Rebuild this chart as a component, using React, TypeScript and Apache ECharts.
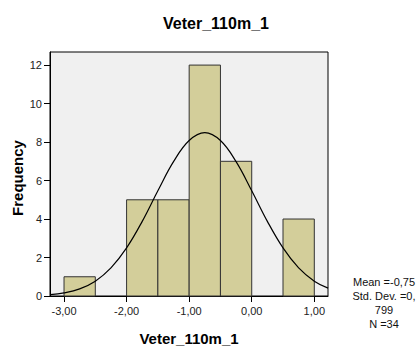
import React, { useEffect, useRef } from "react";
import * as echarts from "echarts";

const binStarts = [-3.0, -2.0, -1.5, -1.0, -0.5, 0.5];
const binEnds = [-2.5, -1.5, -1.0, -0.5, 0.0, 1.0];
const counts = [1, 5, 5, 12, 7, 4];

const curveX = [-3.22, -3.0, -2.75, -2.5, -2.25, -2.0, -1.75, -1.5, -1.25, -1.0, -0.75, -0.5, -0.25, 0.0, 0.25, 0.5, 0.75, 1.0, 1.22];
const curveY = [0.07, 0.16, 0.37, 0.77, 1.46, 2.5, 3.88, 5.47, 6.98, 8.08, 8.49, 8.08, 6.98, 5.47, 3.88, 2.5, 1.46, 0.77, 0.41];

const xTicks = [-3, -2, -1, 0, 1];
const yTicks = [0, 2, 4, 6, 8, 10, 12];

const statsLines = ["Mean =-0,75", "Std. Dev. =0,", "799", "N =34"];

const FONT = "'Liberation Sans', Arial, sans-serif";

export default function App() {
  const ref = useRef<HTMLDivElement>(null);
  useEffect(() => {
    const chart = echarts.init(ref.current!, null, { renderer: "svg" });
    const barData = binStarts.map((s, i) => [s, binEnds[i], counts[i]]);
    const curveData = curveX.map((x, i) => [x, curveY[i]]);
    chart.setOption({
      animation: false,
      grid: {
        left: 50,
        right: 90,
        top: 52,
        bottom: 51,
        show: true,
        backgroundColor: "#F0F0F0",
        borderColor: "#000",
        borderWidth: 1,
      },
      xAxis: {
        type: "value",
        min: -3.224,
        max: 1.219,
        splitLine: { show: false },
        axisLine: { show: true, onZero: false, lineStyle: { color: "#000" } },
        axisTick: { show: true, length: 6, lineStyle: { color: "#000" }, customValues: xTicks },
        axisLabel: {
          customValues: xTicks,
          color: "#222",
          fontSize: 11,
          fontFamily: FONT,
          margin: 9,
          formatter: (v: number) => v.toFixed(2).replace(".", ","),
        },
      },
      yAxis: {
        type: "value",
        min: 0,
        max: 12.68,
        splitLine: { show: false },
        axisLine: { show: true, onZero: false, lineStyle: { color: "#000" } },
        axisTick: { show: true, length: 6, lineStyle: { color: "#000" }, customValues: yTicks },
        axisLabel: {
          customValues: yTicks,
          color: "#222",
          fontSize: 11,
          fontFamily: FONT,
          margin: 8,
        },
      },
      series: [
        {
          type: "custom",
          data: barData,
          z: 2,
          renderItem: (params: any, api: any) => {
            const p0 = api.coord([api.value(0), 0]);
            const p1 = api.coord([api.value(1), api.value(2)]);
            return {
              type: "rect",
              shape: { x: p0[0], y: p1[1], width: p1[0] - p0[0], height: p0[1] - p1[1] },
              style: { fill: "#D3CE9A", stroke: "#333", lineWidth: 1 },
            };
          },
        },
        {
          type: "line",
          data: curveData,
          smooth: 0.4,
          showSymbol: false,
          z: 3,
          lineStyle: { color: "#000", width: 1.2 },
        },
      ],
      graphic: [
        {
          type: "text",
          x: 216,
          y: 23,
          style: {
            text: "Veter_110m_1",
            font: `bold 16px ${FONT}`,
            fill: "#000",
            align: "center",
            verticalAlign: "middle",
          },
        },
        {
          type: "text",
          x: 189,
          y: 338,
          style: {
            text: "Veter_110m_1",
            font: `bold 15px ${FONT}`,
            fill: "#000",
            align: "center",
            verticalAlign: "middle",
          },
        },
        {
          type: "text",
          x: 17,
          y: 178,
          rotation: Math.PI / 2,
          style: {
            text: "Frequency",
            font: `bold 15px ${FONT}`,
            fill: "#000",
            align: "center",
            verticalAlign: "middle",
          },
        },
        {
          type: "text",
          x: 384,
          y: 275,
          style: {
            text: statsLines.join("\n"),
            font: `11px ${FONT}`,
            lineHeight: 14,
            fill: "#111",
            align: "center",
            verticalAlign: "top",
          },
        },
      ],
    });
    return () => chart.dispose();
  }, []);
  return (
    <div
      ref={ref}
      style={{ position: "fixed", left: 0, top: 0, width: 418, height: 347, background: "#fff" }}
    />
  );
}
